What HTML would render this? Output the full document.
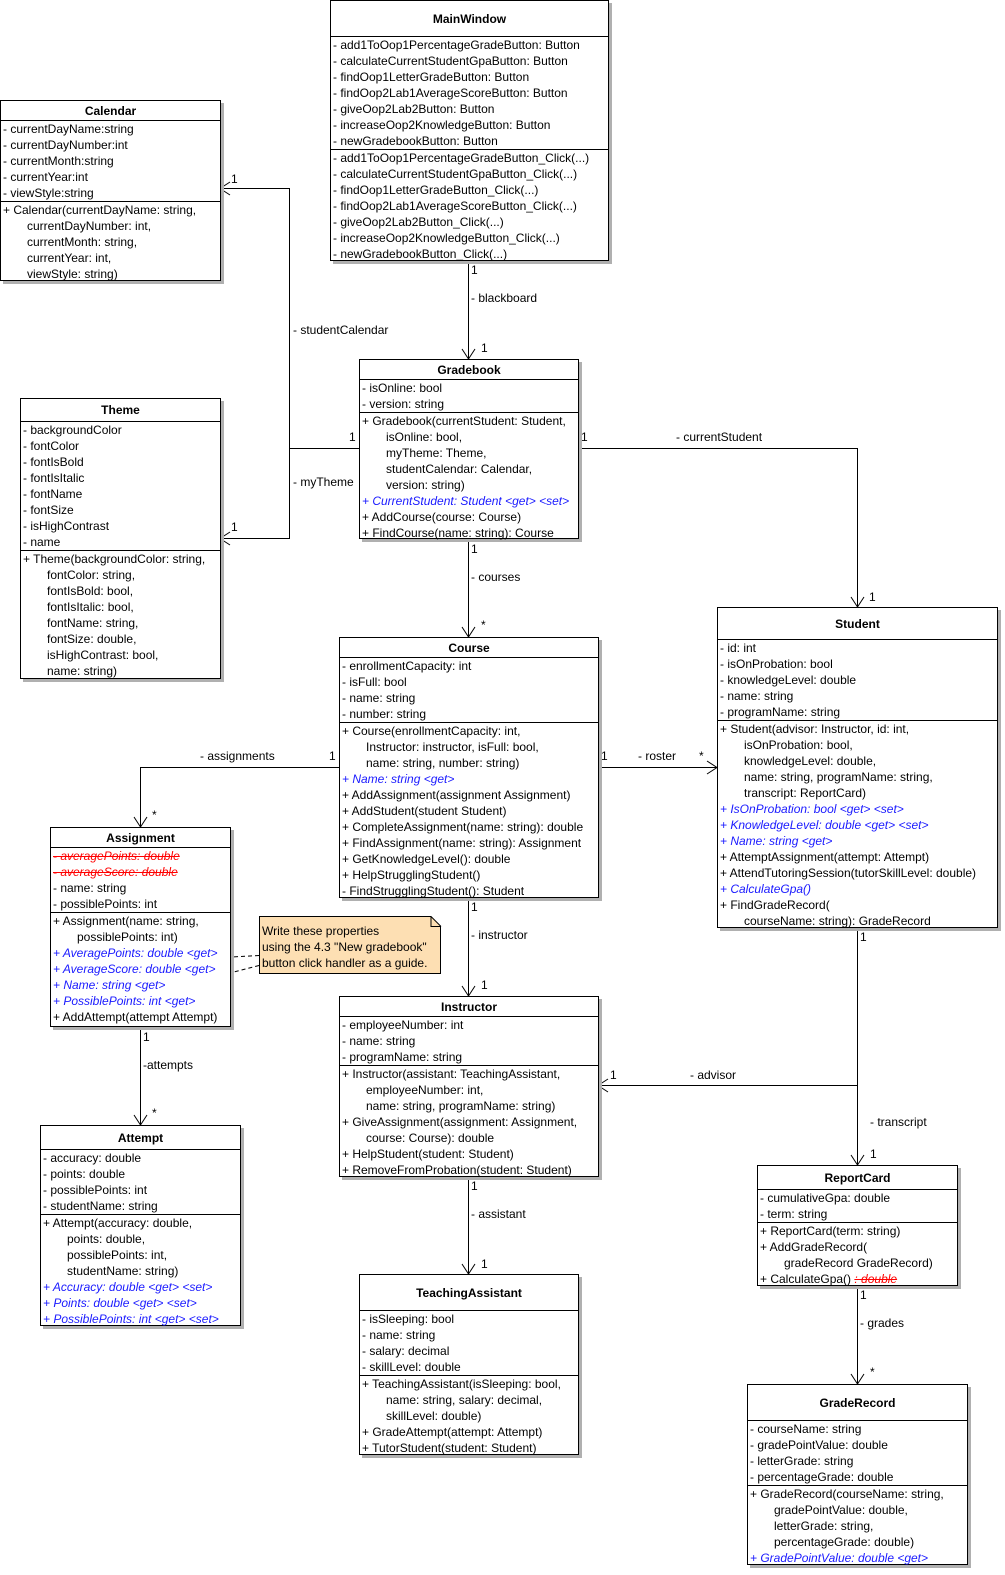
<!DOCTYPE html>
<html><head><meta charset="utf-8"><style>
body{margin:0;width:1005px;height:1575px;background:#fff;position:relative;font-family:"Liberation Sans",Arial,sans-serif;font-size:12px;color:#000;overflow:hidden}
.b{position:absolute;background:#fff;border:1px solid #000;box-shadow:3px 3px 0 #b0b0b0;box-sizing:border-box}
.t{font-weight:bold;text-align:center;border-bottom:1px solid #000;box-sizing:border-box}
.s{border-bottom:1px solid #000}
.r{height:16px;line-height:16px;padding-left:2px;white-space:nowrap}
.i{padding-left:26px}
.bl{color:#1a1aff;font-style:italic}
.rd{color:#ff0000;font-style:italic;text-decoration:line-through}
.l{position:absolute;white-space:nowrap;line-height:14px}
svg{position:absolute;left:0;top:0}
</style></head><body>
<svg width="1005" height="1575">
<g stroke="#000" fill="none" stroke-width="1">
<path d="M468.5 260V359"/><path d="M462 349l6.5 10 6.5-10"/>
<path d="M359 448.5H289.5V188.5H220"/><path d="M230 182l-10 6.5 10 6.5"/>
<path d="M289.5 448.5V538.5H220"/><path d="M230 532l-10 6.5 10 6.5"/>
<path d="M578 448.5H857.5V607"/><path d="M851 597l6.5 10 6.5-10"/>
<path d="M468.5 538V637"/><path d="M462 627l6.5 10 6.5-10"/>
<path d="M339 767.5H140.5V827"/><path d="M134 817l6.5 10 6.5-10"/>
<path d="M598 767.5H717"/><path d="M707 761l10 6.5-10 6.5"/>
<path d="M468.5 897V996"/><path d="M462 986l6.5 10 6.5-10"/>
<path d="M857.5 927V1165"/><path d="M851 1155l6.5 10 6.5-10"/>
<path d="M857.5 1085.5H598"/><path d="M608 1079l-10 6.5 10 6.5"/>
<path d="M140.5 1026V1125"/><path d="M134 1115l6.5 10 6.5-10"/>
<path d="M468.5 1176V1274"/><path d="M462 1264l6.5 10 6.5-10"/>
<path d="M857.5 1285V1384"/><path d="M851 1374l6.5 10 6.5-10"/>
<path d="M259 955.5L222 957.5M259 965.5L222 975" stroke-dasharray="4,3"/>
</g>
</svg>

<div class="l" style="left:471px;top:263px">1</div>
<div class="l" style="left:471px;top:291px">- blackboard</div>
<div class="l" style="left:481px;top:341px">1</div>
<div class="l" style="left:349px;top:430px">1</div>
<div class="l" style="left:231px;top:172px">1</div>
<div class="l" style="left:293px;top:323px">- studentCalendar</div>
<div class="l" style="left:231px;top:520px">1</div>
<div class="l" style="left:293px;top:475px">- myTheme</div>
<div class="l" style="left:581px;top:430px">1</div>
<div class="l" style="left:676px;top:430px">- currentStudent</div>
<div class="l" style="left:869px;top:590px">1</div>
<div class="l" style="left:471px;top:542px">1</div>
<div class="l" style="left:471px;top:570px">- courses</div>
<div class="l" style="left:481px;top:618px">*</div>
<div class="l" style="left:329px;top:749px">1</div>
<div class="l" style="left:200px;top:749px">- assignments</div>
<div class="l" style="left:152px;top:808px">*</div>
<div class="l" style="left:601px;top:749px">1</div>
<div class="l" style="left:638px;top:749px">- roster</div>
<div class="l" style="left:699px;top:749px">*</div>
<div class="l" style="left:471px;top:900px">1</div>
<div class="l" style="left:471px;top:928px">- instructor</div>
<div class="l" style="left:481px;top:978px">1</div>
<div class="l" style="left:860px;top:930px">1</div>
<div class="l" style="left:870px;top:1115px">- transcript</div>
<div class="l" style="left:870px;top:1147px">1</div>
<div class="l" style="left:610px;top:1068px">1</div>
<div class="l" style="left:690px;top:1068px">- advisor</div>
<div class="l" style="left:143px;top:1030px">1</div>
<div class="l" style="left:143px;top:1058px">-attempts</div>
<div class="l" style="left:152px;top:1106px">*</div>
<div class="l" style="left:471px;top:1179px">1</div>
<div class="l" style="left:471px;top:1207px">- assistant</div>
<div class="l" style="left:481px;top:1257px">1</div>
<div class="l" style="left:860px;top:1288px">1</div>
<div class="l" style="left:860px;top:1316px">- grades</div>
<div class="l" style="left:870px;top:1365px">*</div>

<!-- MainWindow -->
<div class="b" style="left:330px;top:0;width:279px;height:261px">
<div class="t" style="height:36px;line-height:36px">MainWindow</div>
<div class="s">
<div class="r">- add1ToOop1PercentageGradeButton: Button</div>
<div class="r">- calculateCurrentStudentGpaButton: Button</div>
<div class="r">- findOop1LetterGradeButton: Button</div>
<div class="r">- findOop2Lab1AverageScoreButton: Button</div>
<div class="r">- giveOop2Lab2Button: Button</div>
<div class="r">- increaseOop2KnowledgeButton: Button</div>
<div class="r">- newGradebookButton: Button</div></div>
<div class="r">- add1ToOop1PercentageGradeButton_Click(...)</div>
<div class="r">- calculateCurrentStudentGpaButton_Click(...)</div>
<div class="r">- findOop1LetterGradeButton_Click(...)</div>
<div class="r">- findOop2Lab1AverageScoreButton_Click(...)</div>
<div class="r">- giveOop2Lab2Button_Click(...)</div>
<div class="r">- increaseOop2KnowledgeButton_Click(...)</div>
<div class="r">- newGradebookButton_Click(...)</div>
</div>

<!-- Calendar -->
<div class="b" style="left:0;top:100px;width:221px;height:181px">
<div class="t" style="height:20px;line-height:20px">Calendar</div>
<div class="s">
<div class="r">- currentDayName:string</div>
<div class="r">- currentDayNumber:int</div>
<div class="r">- currentMonth:string</div>
<div class="r">- currentYear:int</div>
<div class="r">- viewStyle:string</div></div>
<div class="r">+ Calendar(currentDayName: string,</div>
<div class="r i">currentDayNumber: int,</div>
<div class="r i">currentMonth: string,</div>
<div class="r i">currentYear: int,</div>
<div class="r i">viewStyle: string)</div>
</div>

<!-- Gradebook -->
<div class="b" style="left:359px;top:359px;width:220px;height:180px">
<div class="t" style="height:20px;line-height:20px">Gradebook</div>
<div class="s">
<div class="r">- isOnline: bool</div>
<div class="r">- version: string</div></div>
<div class="r">+ Gradebook(currentStudent: Student,</div>
<div class="r i">isOnline: bool,</div>
<div class="r i">myTheme: Theme,</div>
<div class="r i">studentCalendar: Calendar,</div>
<div class="r i">version: string)</div>
<div class="r bl">+ CurrentStudent: Student &lt;get&gt; &lt;set&gt;</div>
<div class="r">+ AddCourse(course: Course)</div>
<div class="r">+ FindCourse(name: string): Course</div>
</div>

<!-- Theme -->
<div class="b" style="left:20px;top:398px;width:201px;height:281px">
<div class="t" style="height:23px;line-height:23px">Theme</div>
<div class="s">
<div class="r">- backgroundColor</div>
<div class="r">- fontColor</div>
<div class="r">- fontIsBold</div>
<div class="r">- fontIsItalic</div>
<div class="r">- fontName</div>
<div class="r">- fontSize</div>
<div class="r">- isHighContrast</div>
<div class="r">- name</div></div>
<div class="r">+ Theme(backgroundColor: string,</div>
<div class="r i">fontColor: string,</div>
<div class="r i">fontIsBold: bool,</div>
<div class="r i">fontIsItalic: bool,</div>
<div class="r i">fontName: string,</div>
<div class="r i">fontSize: double,</div>
<div class="r i">isHighContrast: bool,</div>
<div class="r i">name: string)</div>
</div>

<!-- Course -->
<div class="b" style="left:339px;top:637px;width:260px;height:261px">
<div class="t" style="height:20px;line-height:20px">Course</div>
<div class="s">
<div class="r">- enrollmentCapacity: int</div>
<div class="r">- isFull: bool</div>
<div class="r">- name: string</div>
<div class="r">- number: string</div></div>
<div class="r">+ Course(enrollmentCapacity: int,</div>
<div class="r i">Instructor: instructor, isFull: bool,</div>
<div class="r i">name: string, number: string)</div>
<div class="r bl">+ Name: string &lt;get&gt;</div>
<div class="r">+ AddAssignment(assignment Assignment)</div>
<div class="r">+ AddStudent(student Student)</div>
<div class="r">+ CompleteAssignment(name: string): double</div>
<div class="r">+ FindAssignment(name: string): Assignment</div>
<div class="r">+ GetKnowledgeLevel(): double</div>
<div class="r">+ HelpStrugglingStudent()</div>
<div class="r">- FindStrugglingStudent(): Student</div>
</div>

<!-- Student -->
<div class="b" style="left:717px;top:607px;width:281px;height:321px">
<div class="t" style="height:32px;line-height:32px">Student</div>
<div class="s">
<div class="r">- id: int</div>
<div class="r">- isOnProbation: bool</div>
<div class="r">- knowledgeLevel: double</div>
<div class="r">- name: string</div>
<div class="r">- programName: string</div></div>
<div class="r">+ Student(advisor: Instructor, id: int,</div>
<div class="r i">isOnProbation: bool,</div>
<div class="r i">knowledgeLevel: double,</div>
<div class="r i">name: string, programName: string,</div>
<div class="r i">transcript: ReportCard)</div>
<div class="r bl">+ IsOnProbation: bool &lt;get&gt; &lt;set&gt;</div>
<div class="r bl">+ KnowledgeLevel: double &lt;get&gt; &lt;set&gt;</div>
<div class="r bl">+ Name: string &lt;get&gt;</div>
<div class="r">+ AttemptAssignment(attempt: Attempt)</div>
<div class="r">+ AttendTutoringSession(tutorSkillLevel: double)</div>
<div class="r bl">+ CalculateGpa()</div>
<div class="r">+ FindGradeRecord(</div>
<div class="r i">courseName: string): GradeRecord</div>
</div>

<!-- Assignment -->
<div class="b" style="left:50px;top:827px;width:181px;height:200px">
<div class="t" style="height:20px;line-height:20px">Assignment</div>
<div class="s">
<div class="r rd">- averagePoints: double</div>
<div class="r rd">- averageScore: double</div>
<div class="r">- name: string</div>
<div class="r">- possiblePoints: int</div></div>
<div class="r">+ Assignment(name: string,</div>
<div class="r i">possiblePoints: int)</div>
<div class="r bl">+ AveragePoints: double &lt;get&gt;</div>
<div class="r bl">+ AverageScore: double &lt;get&gt;</div>
<div class="r bl">+ Name: string &lt;get&gt;</div>
<div class="r bl">+ PossiblePoints: int &lt;get&gt;</div>
<div class="r">+ AddAttempt(attempt Attempt)</div>
</div>

<!-- Note -->
<div style="position:absolute;left:259px;top:916px;width:182px;height:58px;background:#fddfb3;border:1px solid #000;box-sizing:border-box;box-shadow:3px 3px 0 #b0b0b0;clip-path:polygon(0 0,172px 0,100% 10px,100% 100%,0 100%);"></div>
<svg width="1005" height="1575"><path d="M431 916.5V926.5H441" fill="none" stroke="#000"/><path d="M431 916.5L441 926.5" stroke="#000"/></svg>
<div class="l" style="left:262px;top:923px;line-height:16px">Write these properties<br>using the 4.3 "New gradebook"<br>button click handler as a guide.</div>

<!-- Instructor -->
<div class="b" style="left:339px;top:996px;width:260px;height:181px">
<div class="t" style="height:20px;line-height:20px">Instructor</div>
<div class="s">
<div class="r">- employeeNumber: int</div>
<div class="r">- name: string</div>
<div class="r">- programName: string</div></div>
<div class="r">+ Instructor(assistant: TeachingAssistant,</div>
<div class="r i">employeeNumber: int,</div>
<div class="r i">name: string, programName: string)</div>
<div class="r">+ GiveAssignment(assignment: Assignment,</div>
<div class="r i">course: Course): double</div>
<div class="r">+ HelpStudent(student: Student)</div>
<div class="r">+ RemoveFromProbation(student: Student)</div>
</div>

<!-- Attempt -->
<div class="b" style="left:40px;top:1125px;width:201px;height:201px">
<div class="t" style="height:24px;line-height:24px">Attempt</div>
<div class="s">
<div class="r">- accuracy: double</div>
<div class="r">- points: double</div>
<div class="r">- possiblePoints: int</div>
<div class="r">- studentName: string</div></div>
<div class="r">+ Attempt(accuracy: double,</div>
<div class="r i">points: double,</div>
<div class="r i">possiblePoints: int,</div>
<div class="r i">studentName: string)</div>
<div class="r bl">+ Accuracy: double &lt;get&gt; &lt;set&gt;</div>
<div class="r bl">+ Points: double &lt;get&gt; &lt;set&gt;</div>
<div class="r bl">+ PossiblePoints: int &lt;get&gt; &lt;set&gt;</div>
</div>

<!-- TeachingAssistant -->
<div class="b" style="left:359px;top:1274px;width:220px;height:181px">
<div class="t" style="height:36px;line-height:36px">TeachingAssistant</div>
<div class="s">
<div class="r">- isSleeping: bool</div>
<div class="r">- name: string</div>
<div class="r">- salary: decimal</div>
<div class="r">- skillLevel: double</div></div>
<div class="r">+ TeachingAssistant(isSleeping: bool,</div>
<div class="r i">name: string, salary: decimal,</div>
<div class="r i">skillLevel: double)</div>
<div class="r">+ GradeAttempt(attempt: Attempt)</div>
<div class="r">+ TutorStudent(student: Student)</div>
</div>

<!-- ReportCard -->
<div class="b" style="left:757px;top:1165px;width:201px;height:121px">
<div class="t" style="height:24px;line-height:24px">ReportCard</div>
<div class="s">
<div class="r">- cumulativeGpa: double</div>
<div class="r">- term: string</div></div>
<div class="r">+ ReportCard(term: string)</div>
<div class="r">+ AddGradeRecord(</div>
<div class="r i">gradeRecord GradeRecord)</div>
<div class="r">+ CalculateGpa() <span class="rd">: double</span></div>
</div>

<!-- GradeRecord -->
<div class="b" style="left:747px;top:1384px;width:221px;height:181px">
<div class="t" style="height:36px;line-height:36px">GradeRecord</div>
<div class="s">
<div class="r">- courseName: string</div>
<div class="r">- gradePointValue: double</div>
<div class="r">- letterGrade: string</div>
<div class="r">- percentageGrade: double</div></div>
<div class="r">+ GradeRecord(courseName: string,</div>
<div class="r i">gradePointValue: double,</div>
<div class="r i">letterGrade: string,</div>
<div class="r i">percentageGrade: double)</div>
<div class="r bl">+ GradePointValue: double &lt;get&gt;</div>
</div>
</body></html>
